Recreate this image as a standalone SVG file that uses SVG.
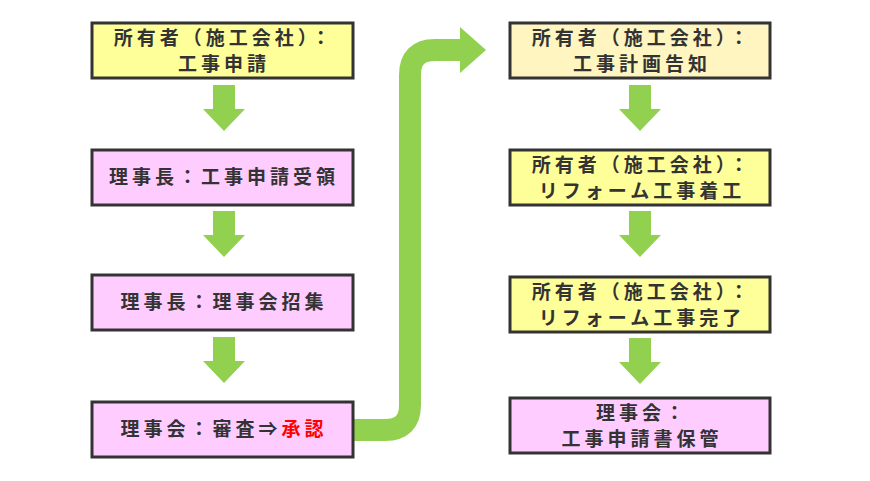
<svg xmlns="http://www.w3.org/2000/svg" width="870" height="481" viewBox="0 0 870 481">
<style>
.b{stroke:#333;stroke-width:3}
.y{fill:#ffff99}.y2{fill:#fff5c0}.p{fill:#ffccff}
text{font-family:"Noto Sans CJK JP","Noto Sans",sans-serif;font-weight:bold;font-size:19px;letter-spacing:4px;fill:#333;text-anchor:middle}
.a{fill:#92d050}
</style>
<rect width="870" height="481" fill="#fff"/>
<g id="connectors">
<path class="a" d="M213,85h22v24h10l-21,22l-21,-22h10z"/>
<path class="a" d="M213,211h22v24h10l-21,22l-21,-22h10z"/>
<path class="a" d="M213,337h22v24h10l-21,22l-21,-22h10z"/>
<path class="a" d="M629,85h22v24h10l-21,22l-21,-22h10z"/>
<path class="a" d="M629,211h22v24h10l-21,22l-21,-22h10z"/>
<path class="a" d="M629,338h22v24h10l-21,22l-21,-22h10z"/>
<path d="M353,430H385Q410,430 410,405V75Q410,50 435,50H462" fill="none" stroke="#92d050" stroke-width="22"/>
<polygon class="a" points="460,27 486,50 460,73"/>
</g>
<g id="n1"><rect class="b y" x="92" y="23" width="261" height="55"/><text x="224" y="45">所有者（施工会社）：</text><text x="224" y="71">工事申請</text></g>
<g id="n2"><rect class="b p" x="92" y="150" width="261" height="55"/><text x="224" y="184">理事長：工事申請受領</text></g>
<g id="n3"><rect class="b p" x="92" y="275" width="261" height="55"/><text x="224" y="309">理事長：理事会招集</text></g>
<g id="n4"><rect class="b p" x="92" y="402" width="261" height="55"/><text x="224" y="436">理事会：審査⇒<tspan fill="#ff0000">承認</tspan></text></g>
<g id="n5"><rect class="b y2" x="510" y="23" width="260" height="55"/><text x="642" y="45">所有者（施工会社）：</text><text x="642" y="71">工事計画告知</text></g>
<g id="n6"><rect class="b y" x="510" y="150" width="260" height="55"/><text x="642" y="172">所有者（施工会社）：</text><text x="642" y="198">リフォーム工事着工</text></g>
<g id="n7"><rect class="b y" x="510" y="277" width="260" height="55"/><text x="642" y="299">所有者（施工会社）：</text><text x="642" y="325">リフォーム工事完了</text></g>
<g id="n8"><rect class="b p" x="510" y="398" width="260" height="55"/><text x="642" y="420">理事会：</text><text x="642" y="446">工事申請書保管</text></g>
</svg>
